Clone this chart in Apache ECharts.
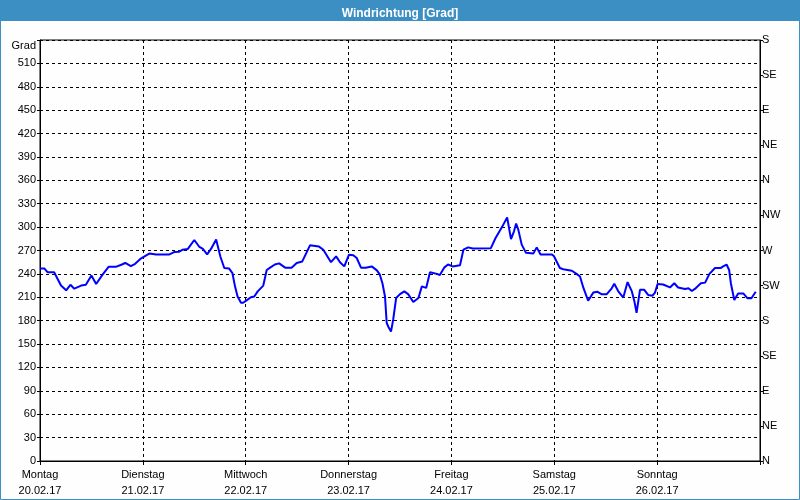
<!DOCTYPE html>
<html>
<head>
<meta charset="utf-8">
<script src="https://cdn.jsdelivr.net/npm/echarts@6/dist/echarts.min.js"></script>
<style>
html,body{margin:0;padding:0;background:#fdfefd;}
#chart{width:800px;height:500px;}
</style>
</head>
<body>
<div id="chart"></div>
<script>
// Category labels (x axis: one per day)
const dayNames = ['Montag','Dienstag','Mittwoch','Donnerstag','Freitag','Samstag','Sonntag'];
const dayDates = ['20.02.17','21.02.17','22.02.17','23.02.17','24.02.17','25.02.17','26.02.17'];
// Compass labels for right axis (every 45°, from 0 to 540)
const compassLabels = ['N','NE','E','SE','S','SW','W','NW','N','NE','E','SE','S'];
// Series: time in hours since Monday 00:00, wind direction in degrees
const hours = [0,1.0,1.8,3.3,4.9,6.1,7.1,8.0,9.6,10.7,12.0,13.1,14.6,16.0,17.7,19.1,19.9,21.2,22.2,23.6,
  25.5,27.1,30.2,31.3,32.5,33.3,34.5,36.0,37.2,38.0,39.0,39.9,41.1,42.1,43.0,44.1,44.9,45.5,46.1,46.9,
  47.4,48.2,49.2,50.0,50.8,52.1,52.9,53.7,54.8,55.8,57.2,58.7,59.9,61.2,63.0,64.2,65.1,66.1,67.9,69.1,
  70.0,71.0,72.1,73.1,73.9,74.9,76.0,77.4,78.6,79.3,79.9,80.5,80.9,81.3,81.9,82.4,83.1,84.0,85.0,85.9,
  87.1,88.3,89.1,90.1,91.0,92.6,93.3,94.3,95.2,96.3,98.0,98.8,99.9,101.0,105.2,106.3,107.8,109.0,109.9,110.6,
  111.1,111.6,112.4,113.4,115.1,115.9,116.8,119.4,119.9,121.3,122.1,124.1,125.2,126.0,126.8,127.9,129.1,130.1,131.1,132.2,
  133.4,134.0,134.9,136.1,137.1,138.1,138.7,139.2,140.0,141.0,141.9,142.9,143.5,144.1,145.4,147.0,148.0,148.9,150.5,151.3,
  152.1,152.8,154.2,155.2,156.2,157.5,158.8,159.4,160.2,160.8,161.2,162.0,162.9,164.1,165.1,166.0,167.0];
const degrees = [247,247,242,242,225,219,226,221,225,226,238,227,239,249,249,252,254,250,253,260,
  266,265,265,268,268.5,271,272,283.5,274.5,272,265,272,284,262,247.5,247,241,224,211,203,
  203,206,210,211,217.5,225,245,248,252,253.5,248,248,254,256,276.6,275.8,275,271,255,262.5,
  255,249.6,264.6,263.8,260.4,248,248,249.6,244.5,239,228,211,177,172,166,181,209,214,217.5,214,
  204,209,224,222,242,240,238.6,248,252,249.6,251,271,274,272.5,273,286,300,312.5,284.5,294.6,
  304.5,296.8,277.5,267,266,274,265,265,263,247.5,246,244,240,236.6,222,205.6,216,217,213.8,213.8,
  221.5,227.4,218,209.7,229.5,217.5,204.6,190,219.5,219.5,213,212,216,227,226.4,222.6,228,222.6,220.7,221.5,
  218,220.7,228,228.8,240,247.5,247.5,249.6,252,245,228,206.5,215,215,208.7,208.7,217];

const FONT = "'Liberation Sans', Arial, sans-serif";
const chart = echarts.init(document.getElementById('chart'), null, {renderer:'canvas'});
chart.setOption({
  animation: false,
  backgroundColor: '#fdfefd',
  title: {
    text: 'Windrichtung [Grad]',
    left: 'center', top: 3,
    textStyle: {color:'#ffffff', fontFamily: FONT, fontSize: 12, fontWeight: 'bold'}
  },
  graphic: [
    {type:'rect', z: -1, shape:{x:0,y:0,width:800,height:21}, style:{fill:'#3b8fc3'}},
    {type:'rect', z: 100, shape:{x:0.5,y:0.5,width:799,height:499}, style:{fill:null, stroke:'#3b8fc3', lineWidth:1}}
  ],
  grid: {left: 40, right: 40, top: 40, bottom: 39, show: true, borderColor: '#000', borderWidth: 1, backgroundColor: 'transparent'},
  xAxis: {
    type: 'value', min: 0, max: 168, interval: 24,
    axisLine: {show: true, lineStyle: {color:'#000', width:1}},
    axisTick: {show: true, length: 4, lineStyle:{color:'#000'}},
    axisLabel: {
      color:'#000', fontFamily: FONT, fontSize: 11, lineHeight: 16, margin: 6,
      formatter: function(v){ const i = Math.round(v/24); return i < dayNames.length ? dayNames[i] + '\n' + dayDates[i] : ''; }
    },
    splitLine: {show: true, lineStyle: {color:'#000', type:[3,3], width:1}}
  },
  yAxis: [
    {
      type: 'value', min: 0, max: 540, interval: 30, position: 'left',
      name: 'Grad', nameLocation: 'end', nameGap: -6,
      nameTextStyle: {color:'#000', fontFamily: FONT, fontSize: 11, align:'right', verticalAlign:'middle', padding:[0,4,0,0]},
      axisLine: {show: true, lineStyle: {color:'#000'}},
      axisTick: {show: true, length: 3, lineStyle:{color:'#000'}},
      axisLabel: {color:'#000', fontFamily: FONT, fontSize: 11, margin: 4,
        formatter: function(v){ return v >= 540 ? '' : String(v); }},
      splitLine: {show: true, lineStyle: {color:'#000', type:[3,3], width:1}}
    },
    {
      type: 'value', min: 0, max: 540, interval: 45, position: 'right',
      axisLine: {show: true, lineStyle: {color:'#000'}},
      axisTick: {show: true, length: 3, lineStyle:{color:'#000'}},
      axisLabel: {color:'#000', fontFamily: FONT, fontSize: 11, margin: 2,
        formatter: function(v){ return compassLabels[Math.round(v/45)] || ''; }},
      splitLine: {show: false}
    }
  ],
  series: [{
    type: 'line',
    yAxisIndex: 0,
    data: hours.map((h,i)=>[h, degrees[i]]),
    showSymbol: false,
    symbol: 'none',
    lineStyle: {color:'#0000ff', width: 2},
    z: 5
  }]
});
</script>
</body>
</html>
